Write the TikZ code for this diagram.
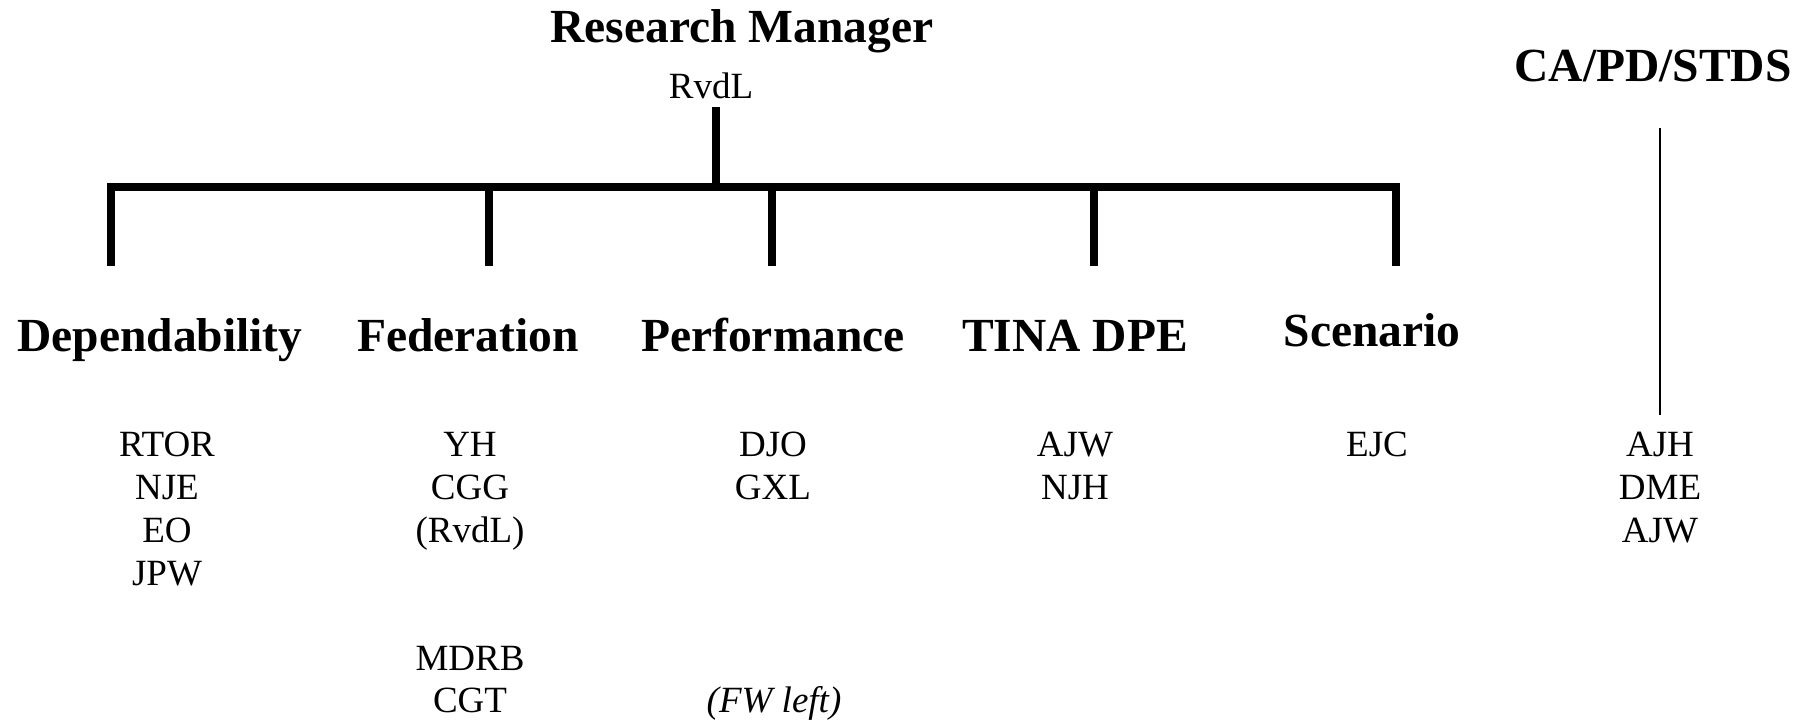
\documentclass[tikz,border=0pt]{standalone}
\usepackage{fontspec}
\setmainfont{Liberation Serif}
\usepackage{tikz}

\begin{document}
\begin{tikzpicture}[x=0.5pt,y=-0.5pt,
    unit/.style={font=\fontsize{23.75}{28}\selectfont\bfseries,inner sep=0pt,anchor=base},
    member/.style={font=\fontsize{18.5}{22}\selectfont,inner sep=0pt,anchor=base},
    bar/.style={line width=4pt},
    link/.style={line width=1.25pt}]

        \useasboundingbox (0,0) rectangle (1810,721);

        % manager
        \node[unit] (manager) at (742,43) {Research Manager};
        \node[member] (rvdl) at (711,99) {RvdL};

        % groups
        \node[unit] (dep) at (160,352) {Dependability};
        \node[unit] (fed) at (468,352) {Federation};
        \node[unit] (perf) at (773,352) {Performance};
        \node[unit] (tina) at (1075,352) {TINA DPE};
        \node[unit] (scen) at (1372,347) {Scenario};
        \node[unit] (stds) at (1653,82) {CA/PD/STDS};

        % people
        \node[member] (dep1) at (167,457) {RTOR};
        \node[member] (dep2) at (167,500) {NJE};
        \node[member] (dep3) at (167,543) {EO};
        \node[member] (dep4) at (167,585) {JPW};

        \node[member] (fed1) at (470,457) {YH};
        \node[member] (fed2) at (470,500) {CGG};
        \node[member] (fed3) at (470,543) {(RvdL)};
        \node[member] (fed4) at (470,670) {MDRB};
        \node[member] (fed5) at (470,712) {CGT};

        \node[member] (perf1) at (773,457) {DJO};
        \node[member] (perf2) at (773,500) {GXL};
        \node[member] (perf3) at (774,712) {\itshape (FW left)};

        \node[member] (tina1) at (1075,457) {AJW};
        \node[member] (tina2) at (1075,500) {NJH};

        \node[member] (scen1) at (1377,457) {EJC};

        \node[member] (stds1) at (1660,457) {AJH};
        \node[member] (stds2) at (1660,500) {DME};
        \node[member] (stds3) at (1660,543) {AJW};

        % tree lines
        \coordinate (rvdl-stem) at (716,107);
        \coordinate (rvdl-bar) at (716,190);
        \coordinate (dep-top) at (111,187);  \coordinate (dep-end) at (111,266);
        \coordinate (fed-top) at (489,183);  \coordinate (fed-end) at (489,266);
        \coordinate (perf-top) at (772,183); \coordinate (perf-end) at (772,266);
        \coordinate (tina-top) at (1094,183); \coordinate (tina-end) at (1094,266);
        \coordinate (scen-top) at (1396,187); \coordinate (scen-end) at (1396,266);
        \coordinate (stds-top) at (1660,128); \coordinate (stds-end) at (1660,415);

        \draw[bar] (rvdl-stem) -- (rvdl-bar);
        \draw[bar] (dep-end) -- (dep-top) -- (scen-top) -- (scen-end);
        \draw[bar] (fed-top) -- (fed-end); \draw[bar] (perf-top) -- (perf-end); \draw[bar] (tina-top) -- (tina-end);

        \draw[link] (stds-top) -- (stds-end);

    \end{tikzpicture}
\end{document}
